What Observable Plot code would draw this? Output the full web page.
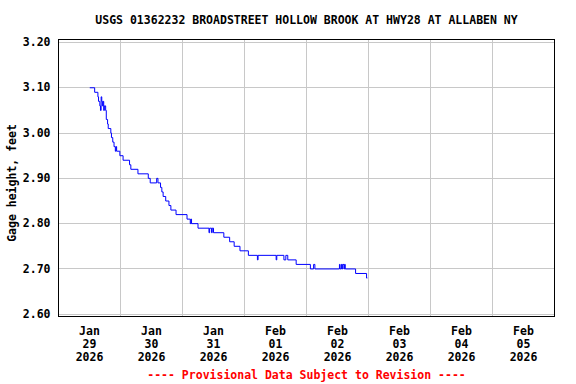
<!DOCTYPE html>
<html><head><meta charset="utf-8">
<script src="https://cdn.jsdelivr.net/npm/d3@7"></script>
<script src="https://cdn.jsdelivr.net/npm/@observablehq/plot@0.6"></script>
<style>body{margin:0;background:#fff} svg{display:block}</style>
</head><body><div id="chart"></div>
<script>
const title = "USGS 01362232 BROADSTREET HOLLOW BROOK AT HWY28 AT ALLABEN NY";
const yLabel = "Gage height, feet";
const footer = "---- Provisional Data Subject to Revision ----";

const times = [
  "2026-01-29 12:15","2026-01-29 14:00","2026-01-29 15:15","2026-01-29 15:30","2026-01-29 16:00",
  "2026-01-29 16:15","2026-01-29 16:30","2026-01-29 16:45","2026-01-29 17:00","2026-01-29 17:15",
  "2026-01-29 17:30","2026-01-29 17:45","2026-01-29 18:15","2026-01-29 18:30","2026-01-29 19:00",
  "2026-01-29 19:15","2026-01-29 20:15","2026-01-29 20:30","2026-01-29 21:00","2026-01-29 21:30",
  "2026-01-29 22:00","2026-01-29 22:15","2026-01-29 22:30","2026-01-29 23:45","2026-01-30 01:00",
  "2026-01-30 03:30","2026-01-30 04:00","2026-01-30 06:45","2026-01-30 10:45","2026-01-30 11:30",
  "2026-01-30 14:00","2026-01-30 14:30","2026-01-30 15:30","2026-01-30 16:00","2026-01-30 16:30",
  "2026-01-30 17:30","2026-01-30 18:45","2026-01-30 19:30","2026-01-30 21:30","2026-01-31 01:45",
  "2026-01-31 03:00","2026-01-31 03:15","2026-01-31 03:30","2026-01-31 06:00","2026-01-31 10:15",
  "2026-01-31 10:30","2026-01-31 11:15","2026-01-31 11:30","2026-01-31 12:00","2026-01-31 16:00",
  "2026-01-31 18:15","2026-01-31 20:00","2026-01-31 22:15","2026-02-01 01:30","2026-02-01 05:00",
  "2026-02-01 05:15","2026-02-01 12:15","2026-02-01 12:30","2026-02-01 15:15","2026-02-01 16:00",
  "2026-02-01 16:45","2026-02-01 20:00","2026-02-02 01:30","2026-02-02 02:45","2026-02-02 03:15",
  "2026-02-02 12:45","2026-02-02 13:00","2026-02-02 13:30","2026-02-02 13:45","2026-02-02 14:00",
  "2026-02-02 14:30","2026-02-02 14:45","2026-02-02 15:00","2026-02-02 19:00","2026-02-02 23:15",
  "2026-02-02 23:30"
];
const gageHeights = [
  3.10,3.09,3.08,3.07,3.06,
  3.05,3.08,3.07,3.06,3.07,
  3.05,3.06,3.05,3.03,3.02,
  3.01,3.00,2.99,2.98,2.97,
  2.96,2.97,2.96,2.95,2.94,
  2.93,2.92,2.91,2.90,2.89,
  2.90,2.89,2.88,2.87,2.86,
  2.85,2.84,2.83,2.82,2.81,
  2.80,2.81,2.80,2.79,2.78,
  2.79,2.78,2.79,2.78,2.77,
  2.76,2.75,2.74,2.73,2.72,
  2.73,2.72,2.73,2.72,2.73,
  2.72,2.71,2.70,2.71,2.70,
  2.71,2.70,2.71,2.70,2.71,
  2.70,2.71,2.70,2.69,2.68,
  2.68
];

const dayBounds = ["2026-01-29","2026-01-30","2026-01-31","2026-02-01","2026-02-02","2026-02-03","2026-02-04","2026-02-05","2026-02-06"];
const dayMonths = ["Jan","Jan","Jan","Feb","Feb","Feb","Feb","Feb"];
const dayNumbers = ["29","30","31","01","02","03","04","05"];
const dayYears = ["2026","2026","2026","2026","2026","2026","2026","2026"];
const yTicks = [2.60,2.70,2.80,2.90,3.00,3.10,3.20];

const parseT = d3.timeParse("%Y-%m-%d %H:%M");
const parseD = d3.timeParse("%Y-%m-%d");
const data = times.map((t, i) => ({date: parseT(t), value: gageHeights[i]}));
const dayDates = dayBounds.map(parseD);
const labelData = dayMonths.map((m, i) => ({
  date: d3.timeHour.offset(dayDates[i], 12),
  text: m + "\n" + dayNumbers[i] + "\n" + dayYears[i]
}));

const chart = Plot.plot({
  width: 576, height: 384,
  marginLeft: 58, marginRight: 22, marginTop: 39, marginBottom: 68,
  style: {fontFamily: "'DejaVu Sans Mono', monospace", fontWeight: "bold", fontSize: "11.5px", background: "white", color: "black"},
  x: {domain: [dayDates[0], dayDates[dayDates.length - 1]], axis: null},
  y: {domain: [2.595, 3.2066], axis: null},
  marks: [
    Plot.ruleX(dayDates.slice(1, -1), {stroke: "#c8c8c8", shapeRendering: "crispEdges"}),
    Plot.ruleY(yTicks, {stroke: "#c8c8c8", shapeRendering: "crispEdges"}),
    Plot.line(data, {x: "date", y: "value", curve: "step-after", stroke: "#0000ff", strokeWidth: 1}),
    Plot.frame({stroke: "black", shapeRendering: "crispEdges"}),
    Plot.axisY(yTicks, {tickSize: 0, tickPadding: 8, tickFormat: d3.format(".2f"), label: null, fontWeight: "bold"}),
    Plot.text(labelData, {x: "date", text: "text", frameAnchor: "bottom", lineAnchor: "top", dy: 10, lineHeight: 1.1, fill: "black"}),
    Plot.text([title], {frameAnchor: "top", dy: -19, lineAnchor: "middle", fill: "black"}),
    Plot.text([yLabel], {frameAnchor: "left", rotate: -90, dx: -46, dy: 5, lineAnchor: "middle", textAnchor: "middle", fill: "black"}),
    Plot.text([footer], {frameAnchor: "bottom", dy: 59, lineAnchor: "middle", fill: "#ff0000"})
  ]
});
document.getElementById("chart").appendChild(chart);
</script>
</body></html>
